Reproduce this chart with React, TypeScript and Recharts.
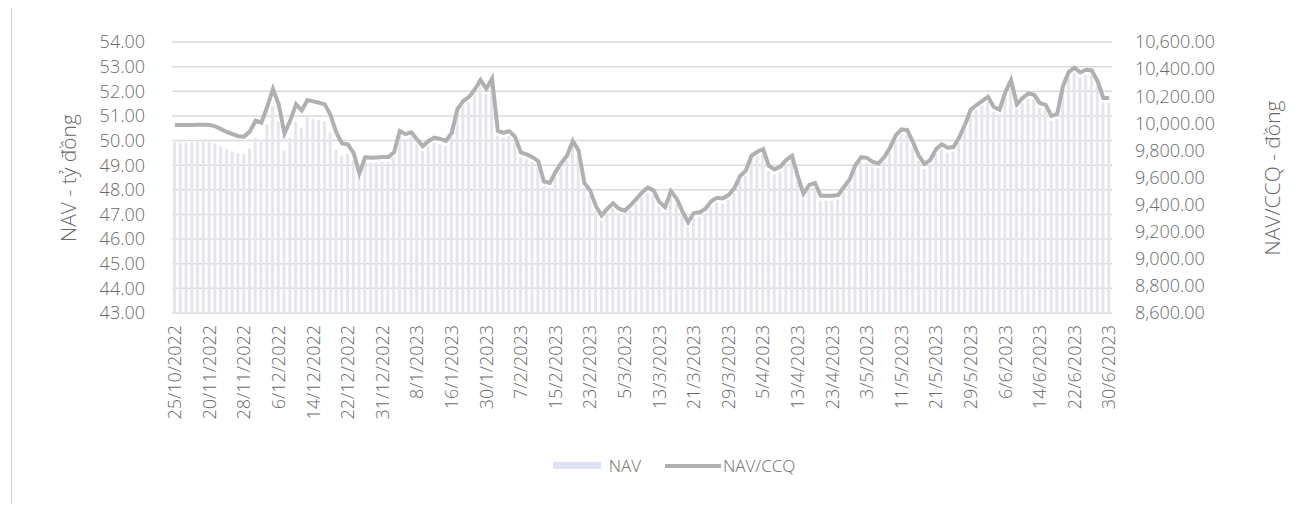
import React from 'react'
import { ComposedChart, Bar, Line, XAxis, YAxis, CartesianGrid } from 'recharts'

// date labels shown on the x axis (one every 6 valuation points)
const tickLabels = [
  '25/10/2022', '20/11/2022', '28/11/2022', '6/12/2022', '14/12/2022', '22/12/2022', '31/12/2022',
  '8/1/2023', '16/1/2023', '30/1/2023', '7/2/2023', '15/2/2023', '23/2/2023', '5/3/2023',
  '13/3/2023', '21/3/2023', '29/3/2023', '5/4/2023', '13/4/2023', '23/4/2023', '3/5/2023',
  '11/5/2023', '21/5/2023', '29/5/2023', '6/6/2023', '14/6/2023', '22/6/2023', '30/6/2023',
]

// NAV/CCQ (đồng), right axis
const navCcq = [
  9987, 9987, 9987, 9987, 9990, 9990, 9988, 9978, 9957, 9936, 9920, 9905,
  9902, 9940, 10020, 10005, 10120, 10253, 10140, 9925, 10020, 10140, 10095, 10172,
  10162, 10152, 10140, 10060, 9930, 9852, 9845, 9780, 9630, 9750, 9745, 9748,
  9751, 9751, 9785, 9943, 9920, 9934, 9880, 9832, 9870, 9895, 9885, 9870,
  9930, 10105, 10165, 10194, 10250, 10320, 10255, 10330, 9945, 9930, 9942, 9900,
  9785, 9770, 9750, 9720, 9570, 9560, 9640, 9707, 9760, 9870, 9800, 9560,
  9505, 9390, 9320, 9370, 9410, 9370, 9355, 9395, 9440, 9490, 9525, 9505,
  9420, 9380, 9500, 9445, 9350, 9270, 9338, 9343, 9370, 9425, 9450, 9446,
  9470, 9520, 9610, 9650, 9760, 9790, 9810, 9685, 9660, 9680, 9730, 9760,
  9610, 9480, 9545, 9560, 9465, 9465, 9466, 9470, 9530, 9585, 9690, 9750,
  9745, 9715, 9705, 9750, 9820, 9910, 9955, 9950, 9860, 9760, 9700, 9730,
  9810, 9845, 9820, 9825, 9895, 9990, 10100, 10135, 10165, 10195, 10120, 10100,
  10230, 10320, 10140, 10187, 10220, 10210, 10148, 10136, 10055, 10070, 10275, 10380,
  10410, 10375, 10395, 10390, 10310, 10187, 10187,
]

// NAV (tỷ đồng), left axis
const nav = [
  49.93, 49.93, 49.93, 49.93, 49.95, 49.95, 49.94, 49.88, 49.76, 49.65, 49.56, 49.48,
  49.46, 49.67, 50.11, 50.03, 50.66, 51.39, 50.77, 49.59, 50.11, 50.77, 50.52, 50.95,
  50.89, 50.84, 50.77, 50.33, 49.62, 49.39, 49.45, 49.19, 48.47, 49.13, 49.10, 49.11,
  49.13, 49.13, 49.32, 50.19, 50.06, 50.14, 49.84, 49.58, 49.79, 49.92, 49.87, 49.79,
  50.12, 51.08, 51.41, 51.57, 51.88, 52.26, 51.90, 52.32, 50.20, 50.12, 50.18, 49.95,
  49.32, 49.24, 49.13, 48.96, 48.14, 48.08, 48.52, 48.89, 49.18, 49.79, 49.40, 48.08,
  47.78, 47.15, 46.76, 47.04, 47.26, 47.04, 46.95, 47.17, 47.42, 47.70, 47.89, 47.78,
  47.31, 47.09, 47.75, 47.45, 46.93, 46.49, 46.86, 46.89, 47.04, 47.34, 47.48, 47.45,
  47.59, 47.86, 48.36, 48.58, 49.18, 49.35, 49.46, 48.77, 48.63, 48.74, 49.02, 49.18,
  48.36, 47.64, 48.00, 48.08, 47.56, 47.56, 47.56, 47.59, 47.92, 48.22, 48.80, 49.13,
  49.10, 48.93, 48.88, 49.13, 49.51, 50.01, 50.25, 50.23, 49.73, 49.18, 48.85, 49.02,
  49.46, 49.65, 49.51, 49.54, 49.92, 50.45, 51.05, 51.24, 51.41, 51.57, 51.16, 51.05,
  51.77, 52.26, 51.27, 51.53, 51.71, 51.66, 51.31, 51.25, 50.80, 50.89, 52.01, 52.59,
  52.76, 52.56, 52.67, 52.65, 52.21, 51.53, 51.53,
]

const leftTicks = [43, 44, 45, 46, 47, 48, 49, 50, 51, 52, 53, 54]
const rightTicks = [8600, 8800, 9000, 9200, 9400, 9600, 9800, 10000, 10200, 10400, 10600]

const data = navCcq.map((v, i) => ({
  date: i % 6 === 0 ? tickLabels[i / 6] : `${tickLabels[Math.floor(i / 6)]}#${i % 6}`,
  nav: nav[i],
  navCcq: v,
}))

const FONT = '"Open Sans", "Noto Sans", sans-serif'
const TEXT = '#6a6a6a'

function DateTick({ x, y, payload }: any) {
  return (
    <text
      x={x}
      y={y}
      transform={`rotate(-90, ${x}, ${y})`}
      textAnchor="end"
      dy="0.35em"
      fontSize={18}
      fontFamily={FONT}
      fontWeight={300}
      fill={TEXT}
    >
      {payload.value}
    </text>
  )
}

const fmtRight = (v: number) => v.toLocaleString('en-US', { minimumFractionDigits: 2, maximumFractionDigits: 2 })

export default function App() {
  return (
    <div style={{ position: 'relative', width: 1284, height: 496, fontFamily: FONT }}>
      <div style={{ position: 'absolute', left: 3, top: -8, width: 1, height: 512, background: '#d0d0d0' }} />
      <ComposedChart
        width={1284}
        height={450}
        data={data}
        margin={{ top: 34, right: 0, left: 0, bottom: 10 }}
        barCategoryGap={0}
      >
        <CartesianGrid yAxisId="left" vertical={false} stroke="#dadada" strokeWidth={1.5} />
        <XAxis
          dataKey="date"
          interval={5}
          height={135}
          tick={<DateTick />}
          tickLine={false}
          axisLine={false}
          tickSize={0}
          tickMargin={12}
        />
        <YAxis
          yAxisId="left"
          width={164}
          domain={[43, 54]}
          ticks={leftTicks}
          interval={0}
          tickFormatter={(v: number) => v.toFixed(2)}
          tickLine={false}
          axisLine={false}
          tickSize={0}
          tickMargin={27}
          tick={{ fontSize: 18, fill: TEXT, fontFamily: FONT, fontWeight: 300 }}
        />
        <YAxis
          yAxisId="right"
          orientation="right"
          width={180}
          domain={[8600, 10600]}
          ticks={rightTicks}
          interval={0}
          tickFormatter={fmtRight}
          tickLine={false}
          axisLine={false}
          tickSize={0}
          tickMargin={23}
          tick={{ fontSize: 18, fill: TEXT, fontFamily: FONT, fontWeight: 300, textAnchor: 'start' }}
        />
        <Bar yAxisId="left" dataKey="nav" name="NAV" fill="#e4e6ec" barSize={3} isAnimationActive={false} />
        <Line
          yAxisId="right"
          type="linear"
          dataKey="navCcq"
          name="NAV/CCQ"
          stroke="#b0b0b0"
          strokeWidth={4}
          dot={false}
          isAnimationActive={false}
        />
      </ComposedChart>

      <div
        style={{
          position: 'absolute', left: 60, top: 170, transform: 'translate(-50%, -50%) rotate(-90deg)',
          whiteSpace: 'nowrap', fontSize: 21, color: TEXT, fontWeight: 300,
        }}
      >
        NAV - tỷ đồng
      </div>
      <div
        style={{
          position: 'absolute', left: 1264, top: 170, transform: 'translate(-50%, -50%) rotate(-90deg)',
          whiteSpace: 'nowrap', fontSize: 21, color: TEXT, fontWeight: 300,
        }}
      >
        NAV/CCQ - đồng
      </div>

      <div
        style={{
          position: 'absolute', left: 0, width: 1284, top: 446, display: 'flex', justifyContent: 'center',
          alignItems: 'center', fontSize: 17, color: TEXT, fontWeight: 300, paddingLeft: 24,
        }}
      >
        <span style={{ display: 'inline-block', width: 48, height: 7, background: '#dfe2f2', marginRight: 8 }} />
        <span style={{ marginRight: 24 }}>NAV</span>
        <span style={{ display: 'inline-block', width: 56, height: 4, background: '#b0b0b0', marginRight: 2 }} />
        <span>NAV/CCQ</span>
      </div>
    </div>
  )
}
